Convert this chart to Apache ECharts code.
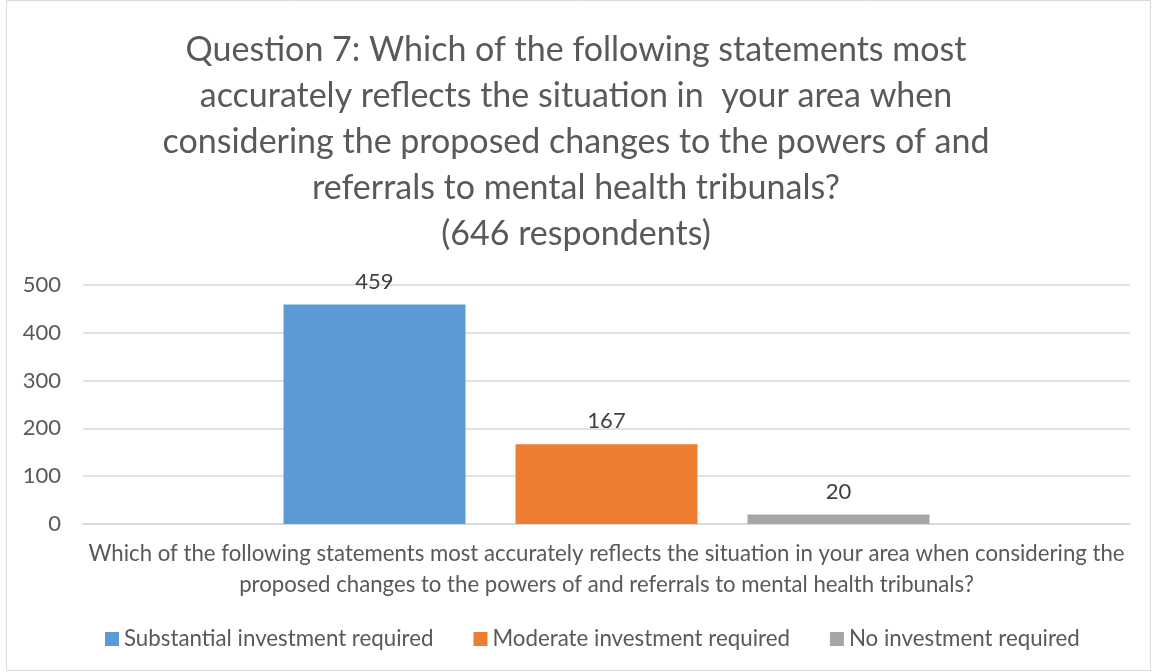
<!DOCTYPE html>
<html>
<head>
<meta charset="utf-8">
<script src="https://cdn.jsdelivr.net/npm/echarts@6/dist/echarts.min.js"></script>
<style>
html,body{margin:0;padding:0;background:#fff;}
#c{width:1152px;height:672px;}
</style>
</head>
<body>
<div id="c"></div>
<script>
var titleText = "Question 7: Which of the following statements most\naccurately reflects the situation in  your area when\nconsidering the proposed changes to the powers of and\nreferrals to mental health tribunals?\n(646 respondents)";
var categories = ["Which of the following statements most accurately reflects the situation in your area when considering the\nproposed changes to the powers of and referrals to mental health tribunals?"];
var seriesNames = ["Substantial investment required", "Moderate investment required", "No investment required"];
var substantial = [459];
var moderate = [167];
var noInvestment = [20];
var colors = ["#5b9bd5", "#ed7d31", "#a5a5a5"];
var yTicks = {min: 0, max: 500, interval: 100};

var font = "Lato, 'Open Sans', sans-serif";
var chart = echarts.init(document.getElementById('c'));
var values = [substantial, moderate, noInvestment];
var series = seriesNames.map(function (n, i) {
  return {
    name: n,
    type: 'bar',
    data: values[i],
    barGap: '27.5%',
    barCategoryGap: '38.3%',
    itemStyle: {color: colors[i]},
    label: {show: true, position: 'top', distance: 12, color: '#404040', fontSize: 22, fontFamily: font}
  };
});
chart.setOption({
  backgroundColor: '#fff',
  animation: false,
  title: {
    text: titleText,
    left: 'center',
    top: 22,
    textStyle: {fontFamily: font, fontSize: 34, fontWeight: 'normal', color: '#595959', lineHeight: 46}
  },
  legend: {
    data: seriesNames,
    top: 623,
    left: 100,
    icon: 'rect',
    itemWidth: 14,
    itemHeight: 14,
    itemGap: 40,
    textStyle: {fontFamily: font, fontSize: 22.3, color: '#595959'}
  },
  grid: {left: 83, right: 22, top: 285, bottom: 148, containLabel: false},
  xAxis: {
    type: 'category',
    data: categories,
    axisLine: {lineStyle: {color: '#d9d9d9', width: 1.5}},
    axisTick: {show: false},
    axisLabel: {fontFamily: font, fontSize: 22.2, color: '#595959', lineHeight: 31, margin: 14, interval: 0}
  },
  yAxis: {
    type: 'value',
    min: yTicks.min,
    max: yTicks.max,
    interval: yTicks.interval,
    axisLine: {show: false},
    axisTick: {show: false},
    splitLine: {lineStyle: {color: '#d9d9d9', width: 1.5}},
    axisLabel: {fontFamily: font, fontSize: 22, color: '#595959', margin: 22}
  },
  graphic: [{
    type: 'rect',
    shape: {x: 6.5, y: 0.5, width: 1144, height: 670},
    style: {fill: null, stroke: '#d9d9d9', lineWidth: 1},
    silent: true
  }],
  series: series
});
</script>
</body>
</html>
